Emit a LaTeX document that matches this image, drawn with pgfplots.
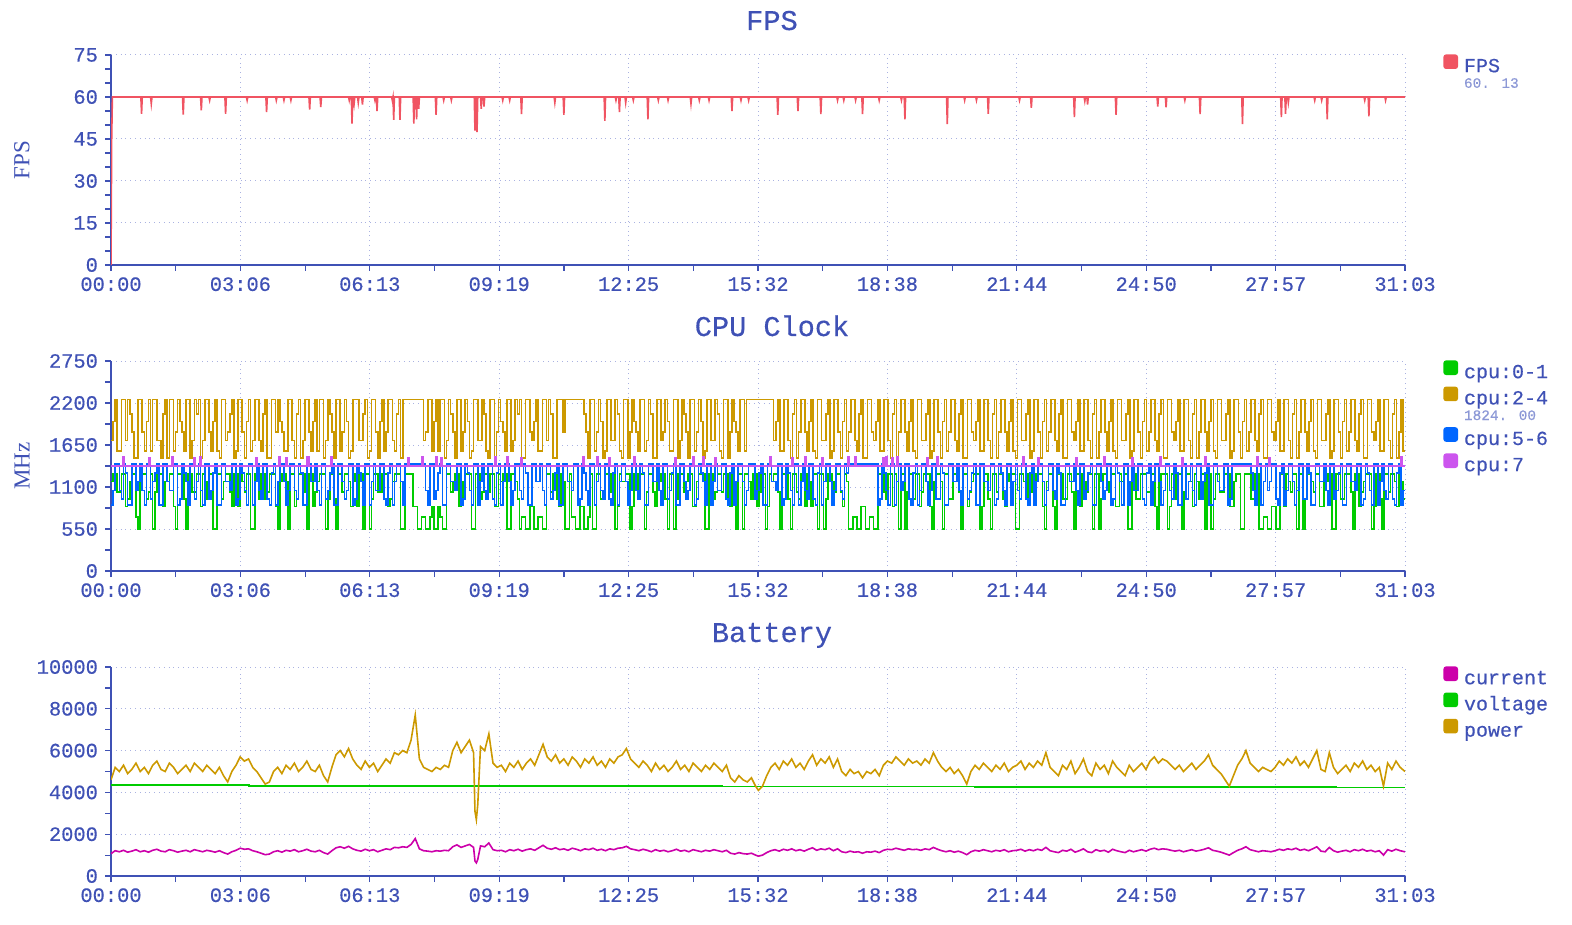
\documentclass[border=0pt]{standalone}
\usepackage{pgfplots}
\pgfplotsset{compat=1.18}
\usepackage{pgfplotstable}
\usepackage{fontspec}
\setmainfont{Liberation Serif}
\newfontfamily\lmono{Liberation Mono}[FakeBold=0.4]

\definecolor{indigo}{RGB}{63,81,181}
\definecolor{gridc}{RGB}{170,178,225}
\definecolor{subtxt}{RGB}{140,152,214}
\definecolor{fpsred}{RGB}{240,84,98}
\definecolor{cgreen}{RGB}{0,204,0}
\definecolor{cgold}{RGB}{204,153,0}
\definecolor{cblue}{RGB}{0,102,255}
\definecolor{cviolet}{RGB}{204,85,238}
\definecolor{cmag}{RGB}{204,0,170}

% cpu clocks, MHz, one row every 3 s
\pgfplotstableread{
t c01 c24 c56
0 1171 1709 864
3 1267 1958 1056
6 1267 2246 1400
9 1036 1574 1400
12 1036 1574 1056
15 1267 2246 940
18 1267 2246 1400
21 844 1709 1286
24 940 2246 864
27 1171 2054 864
30 1267 1824 1400
33 1267 1478 1400
36 710 1478 1056
39 550 2246 1171
42 1267 2246 1400
45 1267 1824 1056
48 1267 1574 864
51 940 1958 1400
54 1036 2246 1400
57 1267 1574 940
60 550 2246 1171
63 1036 2246 1286
66 1267 1709 1400
69 1267 1709 864
72 1267 1478 864
75 844 2054 1400
78 1171 2246 1400
81 1171 1478 1171
84 1267 2246 1056
87 1267 2246 1056
90 844 1574 1400
93 550 1824 1400
96 1267 2246 864
99 1267 1958 940
102 1267 1824 1400
105 940 1574 1286
108 550 2246 1171
111 1267 2246 864
114 1267 1478 1400
117 1036 1709 1400
120 1036 2246 940
123 1267 2054 1171
126 1267 2246 1400
129 844 1478 1056
132 1267 1709 864
135 1171 2246 1400
138 940 2246 1400
141 1267 1824 940
144 1267 1574 1056
147 550 1958 1286
150 550 2246 1400
153 1267 1574 864
156 1267 1478 864
159 940 2246 1400
162 1171 2246 1400
165 1267 1709 1171
168 1267 1824 1171
171 1036 2054 1056
174 844 2246 1400
177 1267 1478 1400
180 1267 1574 864
183 844 2246 940
186 1267 2246 1400
189 1171 1824 1286
192 1036 1478 1056
195 1267 1958 864
198 1267 2246 1400
201 550 1574 1400
204 550 1709 864
207 1267 2246 1171
210 1267 2246 1400
213 940 1709 1056
216 1267 1574 940
219 1267 2054 1400
222 940 2246 1400
225 1036 1478 940
228 1267 1478 864
231 1267 2246 1286
234 1267 2246 1400
237 844 1824 864
240 550 2246 1171
243 1171 1958 1400
246 1267 1824 1400
249 1267 1574 1171
252 1171 1574 864
255 550 2246 1056
258 1267 2246 1400
261 1267 1709 1400
264 844 1478 1056
267 940 2054 940
270 1267 2246 1400
273 1267 1478 1286
276 1267 1709 864
279 1036 2246 864
282 550 2246 1400
285 1267 1824 1400
288 1267 1574 1171
291 844 1958 1171
294 1036 2246 1400
297 1171 1574 1056
300 1267 2246 864
303 1267 2246 1400
306 1267 1478 1400
309 550 1709 940
312 940 2246 1056
315 1267 2054 1286
318 1267 1824 1400
321 940 1478 864
324 550 2246 864
327 1267 2246 1400
330 1267 1574 1400
333 1036 1824 1171
336 1267 2246 940
339 1267 1958 1056
342 1171 1478 1400
345 844 1574 1400
348 1267 2246 864
351 1171 2246 940
354 844 2246 1400
357 1267 1709 1286
360 1267 1709 1171
363 550 2054 864
366 1267 2246 1400
369 1267 1478 1400
372 550 1574 864
375 940 2246 1171
378 1267 2246 1400
381 1267 1824 1056
384 1036 1478 1056
387 1036 1958 1400
390 1267 2246 1400
393 1267 1574 940
396 1267 1824 864
399 844 2246 1286
402 940 2246 1400
405 1171 1709 864
408 1267 1574 1171
411 1267 2054 1400
414 1267 2246 1400
417 550 1478 1171
420 550 2246 864
423 1267 2246 1400
426 1267 2246 1400
429 1267 2246 1400
432 1267 2246 1400
435 844 2246 1400
438 844 2246 1400
441 550 2246 1400
444 550 2246 1400
447 710 2246 1400
450 710 1709 1400
453 550 1824 1056
456 550 2246 864
459 710 2246 1400
462 844 1574 1400
465 550 1958 940
468 550 2246 1056
471 844 1574 1286
474 710 2246 1400
477 550 2246 864
480 550 1478 864
483 1267 1709 1400
486 1267 2246 1400
489 1036 2054 1171
492 1171 1824 1171
495 1267 1478 1056
498 1267 2246 1400
501 844 2246 1400
504 940 1574 864
507 1171 1824 940
510 1267 2246 1400
513 1267 1958 1286
516 1267 1478 1056
519 550 1574 864
522 550 2246 1400
525 1267 2246 1400
528 1267 1709 864
531 940 1709 1171
534 1036 2246 1400
537 1267 2054 1056
540 1267 1574 940
543 1036 1478 1400
546 1267 2246 1400
549 1267 2246 940
552 844 1478 864
555 844 1824 1286
558 1267 2246 1400
561 1171 1958 864
564 1267 1824 1171
567 1267 1574 1400
570 550 2246 1400
573 550 2246 1171
576 1267 1574 864
579 1267 1709 1056
582 1171 2246 1400
585 940 2054 1400
588 550 2246 1056
591 710 1478 940
594 710 1478 1400
597 550 2246 1286
600 550 2246 864
603 844 1824 864
606 844 1709 1400
609 550 1958 1400
612 550 2246 1171
615 710 1574 1171
618 710 1574 1400
621 550 2246 1056
624 550 2246 864
627 1267 1709 1400
630 1267 2246 1400
633 1036 2054 940
636 1267 1478 1056
639 1267 1478 1286
642 940 2246 1400
645 844 2246 864
648 1267 2246 864
651 1171 1824 1400
654 550 2246 1400
657 550 2246 1171
660 1267 2246 1171
663 710 2246 1056
666 710 2246 1400
669 550 2246 1400
672 550 2246 864
675 844 2246 940
678 844 2246 1400
681 550 2054 1286
684 550 1824 1056
687 710 1478 864
690 1267 2246 1400
693 550 2246 1400
696 550 1574 864
699 1267 1824 1171
702 1267 2246 1400
705 940 1958 1056
708 1036 1478 940
711 1267 1574 1400
714 1267 2246 1400
717 1036 2246 940
720 1267 1709 864
723 1267 1709 1286
726 550 2246 1400
729 844 2054 864
732 1267 1574 1171
735 1171 1478 1400
738 1171 2246 1400
741 1267 2246 1171
744 1267 1478 864
747 550 1824 1056
750 844 2246 1400
753 1267 1958 1400
756 1267 1824 1056
759 940 1574 940
762 1267 2246 1400
765 1267 2246 1286
768 550 1574 864
771 1036 1709 864
774 1267 2246 1400
777 1267 2054 1400
780 1036 1478 1171
783 844 1478 1171
786 1267 2246 1400
789 1171 2246 1056
792 1267 1709 864
795 1267 1824 1400
798 940 2246 1400
801 550 1958 940
804 1267 1574 1056
807 1267 1574 1286
810 550 2246 1400
813 940 2246 864
816 1267 1478 864
819 1267 1709 1400
822 1267 2246 1400
825 1036 2054 1171
828 1171 1824 940
831 1267 1478 1056
834 1267 2246 1400
837 844 2246 1400
840 844 1574 864
843 1171 1824 940
846 1267 2246 1400
849 1267 1958 1286
852 1267 1478 1171
855 550 1574 864
858 550 2246 1400
861 1267 2246 1400
864 1267 1709 864
867 940 1709 1171
870 1036 2246 1400
873 1267 2054 1056
876 1267 1574 1056
879 1036 1478 1400
882 1267 2246 1400
885 1267 2246 940
888 940 1478 864
891 844 1824 1286
894 1267 2246 1400
897 1171 1958 864
900 550 1824 1171
903 1267 1574 1400
906 1267 2246 1400
909 550 2246 1171
912 1267 1574 864
915 1267 2246 1056
918 1171 2246 1400
921 940 2246 1400
924 1267 2246 1400
927 1267 2246 940
930 844 2246 1056
933 1036 2246 1286
936 1267 2246 1400
939 1267 2246 864
942 550 2246 864
945 844 2246 1400
948 1267 2246 1400
951 1171 2246 1171
954 1267 1709 1171
957 1267 1958 1056
960 1036 2246 1400
963 550 1574 1400
966 1267 1574 864
969 1267 2246 940
972 1267 2246 1400
975 940 1709 1286
978 550 1478 1056
981 1267 2054 864
984 1267 2246 1400
987 1036 1478 1400
990 940 1824 864
993 1267 2246 1171
996 1267 2246 1400
999 844 1824 1056
1002 1267 1574 940
1005 1171 1958 1400
1008 844 2246 1400
1011 1267 1574 940
1014 1267 1478 864
1017 550 2246 1286
1020 1267 2246 1400
1023 1267 1709 864
1026 550 1709 1171
1029 940 2054 1400
1032 1267 2246 1400
1035 1267 1478 1171
1038 1171 1574 864
1041 1036 2246 1056
1044 1267 2246 1400
1047 1267 1824 1400
1050 1036 1478 1056
1053 844 1958 940
1056 1267 2246 1400
1059 1171 1574 1286
1062 550 1824 1400
1065 550 2246 1400
1068 710 2246 1400
1071 710 1709 1400
1074 550 1574 1400
1077 550 2054 1400
1080 844 2246 1400
1083 844 1478 1400
1086 550 1478 1400
1089 550 2246 1400
1092 710 2246 1400
1095 710 1824 1400
1098 550 1709 1400
1101 550 1958 1400
1104 1267 2246 864
1107 1267 1574 940
1110 1267 1574 1400
1113 1036 2246 1286
1116 940 2246 1056
1119 1267 1709 864
1122 1267 1478 1400
1125 844 2054 1400
1128 1267 2246 864
1131 1171 1478 1171
1134 550 1824 1400
1137 1267 2246 1056
1140 1267 2246 1171
1143 550 1824 1400
1146 1036 1574 1400
1149 1267 1958 940
1152 1267 2246 864
1155 940 1574 1286
1158 1267 1478 1400
1161 1267 2246 864
1164 844 2246 1056
1167 1036 1709 1400
1170 1267 1709 1400
1173 1267 2054 1171
1176 1267 2246 864
1179 844 1478 1056
1182 550 1574 1400
1185 1171 2246 1400
1188 1267 2246 940
1191 1267 1824 940
1194 1171 1478 1400
1197 550 1958 1286
1200 1267 2246 864
1203 1267 1574 864
1206 940 1824 1400
1209 940 2246 1400
1212 1267 2246 1171
1215 1267 1709 1171
1218 1267 1574 1400
1221 1036 2054 1056
1224 550 2246 864
1227 1267 1478 1400
1230 1267 1478 1400
1233 844 2246 940
1236 1036 2246 1056
1239 1171 1824 1286
1242 1267 1709 1400
1245 1267 1958 864
1248 1267 2246 864
1251 550 1574 1400
1254 844 1574 1400
1257 1267 2246 1171
1260 1267 2246 1171
1263 940 1709 1056
1266 550 1478 1400
1269 1267 2054 1400
1272 1267 2246 864
1275 1036 1478 940
1278 1267 1824 1400
1281 1267 2246 1286
1284 940 2246 1056
1287 844 1824 864
1290 1267 1574 1400
1293 1171 1958 1400
1296 1267 2246 864
1299 1267 1574 1171
1302 550 1478 1400
1305 550 2246 1056
1308 1267 2246 940
1311 1267 1709 1400
1314 1171 1709 1400
1317 940 2054 940
1320 1267 2246 864
1323 1267 1478 1286
1326 1036 1574 1400
1329 1036 2246 864
1332 1267 2246 1171
1335 1267 1824 1400
1338 1267 1478 1400
1341 844 1958 1171
1344 550 2246 864
1347 1171 1574 1056
1350 1267 1824 1400
1353 1267 2246 1400
1356 844 2246 1056
1359 550 1709 940
1362 1267 1574 1400
1365 1267 2054 1286
1368 1267 2246 864
1371 940 1478 864
1374 940 1478 1400
1377 1267 2246 1400
1380 1267 2246 1171
1383 1036 1824 1171
1386 550 1709 1400
1389 1267 1958 1056
1392 1267 2246 864
1395 844 1574 1400
1398 1267 1574 1400
1401 1171 2246 940
1404 1036 2246 1056
1407 1267 1709 1286
1410 1267 1478 1400
1413 550 2054 864
1416 1267 2246 864
1419 1267 1478 1400
1422 550 1824 1400
1425 940 2246 1171
1428 1267 2246 940
1431 1267 1824 1056
1434 1171 1574 1400
1437 1036 1958 1400
1440 1267 2246 864
1443 1267 1574 940
1446 844 1478 1400
1449 844 2246 1286
1452 1267 2246 1171
1455 1171 1709 864
1458 1267 1709 1400
1461 1267 2054 1400
1464 550 2246 864
1467 550 1478 1171
1470 1267 1574 1400
1473 1267 2246 1056
1476 940 2246 1056
1479 940 1824 1400
1482 1267 1478 1400
1485 1267 1958 940
1488 1267 2246 864
1491 1036 1574 1286
1494 1036 1824 1400
1497 1267 2246 864
1500 1267 2246 1171
1503 844 1709 1400
1506 550 1574 1400
1509 1171 2054 1171
1512 1267 2246 864
1515 1267 1478 1056
1518 1267 1478 1400
1521 550 2246 1400
1524 844 2246 1056
1527 1267 1824 940
1530 1267 1709 1400
1533 940 1958 1286
1536 1267 2246 864
1539 1267 1574 864
1542 550 1574 1400
1545 1036 2246 1400
1548 1267 2246 940
1551 1267 1709 1171
1554 1171 1478 1400
1557 844 2054 1056
1560 1267 2246 864
1563 1171 1478 1400
1566 940 1824 1400
1569 1267 2246 940
1572 1267 2246 1171
1575 550 1824 1286
1578 1267 1574 1400
1581 1267 1958 864
1584 550 2246 864
1587 940 1574 1400
1590 1267 1478 1400
1593 1267 2246 1171
1596 1036 2246 1056
1599 1036 1709 1056
1602 1267 1709 1400
1605 1267 2054 1400
1608 1267 2246 864
1611 844 1478 940
1614 844 1574 1400
1617 1171 2246 1400
1620 1267 2246 1400
1623 1267 1824 1400
1626 550 1478 1400
1629 550 1958 1400
1632 1267 2246 1400
1635 1267 1574 1400
1638 1267 1824 1400
1641 940 2246 1286
1644 940 2246 1056
1647 1267 1709 864
1650 1267 1574 1400
1653 550 2054 1400
1656 550 2246 864
1659 710 1478 1171
1662 710 1478 1400
1665 550 2246 1056
1668 550 2246 1171
1671 844 1824 1400
1674 844 1709 1400
1677 550 1958 940
1680 550 2246 864
1683 1267 1574 1286
1686 1267 1574 1400
1689 844 2246 864
1692 1267 2246 1056
1695 1171 1709 1400
1698 1036 1478 1400
1701 1267 2054 1171
1704 1267 2246 864
1707 550 1478 1056
1710 1267 1824 1400
1713 1267 2246 1400
1716 550 2246 940
1719 940 1824 940
1722 1267 1574 1400
1725 1267 1958 1286
1728 1171 2246 864
1731 1036 1574 864
1734 1267 1478 1400
1737 1267 2246 1400
1740 844 2246 1171
1743 844 1709 1171
1746 1267 1709 1400
1749 1171 2054 1056
1752 1267 2246 864
1755 1267 1478 1400
1758 550 1574 1400
1761 550 2246 940
1764 1267 2246 1056
1767 1267 1824 1286
1770 940 1478 1400
1773 940 1958 864
1776 1267 2246 864
1779 1267 1574 1400
1782 1267 1824 1400
1785 1036 2246 1171
1788 550 2246 1171
1791 1267 1709 1056
1794 1267 1574 1400
1797 844 2054 1400
1800 1036 2246 864
1803 1171 1478 940
1806 1267 1478 1400
1809 1267 2246 1286
1812 1267 2246 1056
1815 550 1824 864
1818 844 1709 1400
1821 1267 1958 1400
1824 1267 2246 864
1827 940 1574 1171
1830 550 1574 1400
1833 1267 2246 1056
1836 1267 2246 940
1839 1036 1709 1400
1842 1267 1478 1400
1845 1267 2054 940
1848 1171 2246 864
1851 844 1478 1286
1854 1267 1824 1400
1857 1171 2246 864
1860 940 1574 1056
1863 940 1574 1056
}\cputab

% battery: power p, current c
\pgfplotstableread{
t p c
0 4600 1070
6 5200 1210
12 5000 1160
18 5300 1230
24 4900 1140
30 5100 1190
36 5400 1260
42 5000 1160
48 5200 1210
54 4900 1140
60 5300 1230
66 5500 1280
72 5100 1190
78 5000 1160
84 5400 1260
90 5200 1210
96 4900 1140
102 5100 1190
108 5300 1230
114 5000 1160
120 5400 1260
126 5200 1210
132 5000 1160
138 5300 1230
144 5100 1190
150 4900 1140
156 5200 1210
162 4800 1120
168 4500 1050
174 5000 1160
180 5300 1230
186 5700 1330
192 5500 1280
198 5600 1300
204 5200 1210
210 5000 1160
216 4700 1090
222 4400 1020
228 4500 1050
234 5000 1160
240 5200 1210
246 4900 1140
252 5300 1230
258 5100 1190
264 5400 1260
270 5000 1160
276 5200 1210
282 5500 1280
288 5100 1190
294 5000 1160
300 5300 1230
306 4800 1120
312 4500 1050
318 5200 1210
324 5800 1350
330 6000 1400
336 5700 1330
342 6100 1420
348 5600 1300
354 5300 1230
360 5100 1190
366 5500 1280
372 5200 1210
378 5400 1260
384 5000 1160
390 5300 1230
396 5600 1300
402 5400 1260
408 5900 1370
414 5800 1350
420 6000 1400
426 5900 1370
432 6500 1510
438 7700 1790
444 5600 1300
450 5200 1210
456 5100 1190
462 5000 1160
468 5200 1210
474 5100 1190
480 5300 1230
486 5200 1210
492 6000 1400
498 6400 1490
504 5900 1370
510 6200 1440
516 6500 1510
522 5900 1370
524 3100 720
526 2700 630
528 3400 790
532 6200 1440
538 6000 1400
544 6800 1580
550 5400 1260
556 5200 1210
562 5300 1230
568 5000 1160
574 5400 1260
580 5200 1210
586 5500 1280
592 5100 1190
598 5400 1260
604 5600 1300
610 5300 1230
616 5800 1350
622 6300 1470
628 5700 1330
634 5500 1280
640 5800 1350
646 5400 1260
652 5600 1300
658 5300 1230
664 5700 1330
670 5500 1280
676 5200 1210
682 5600 1300
688 5400 1260
694 5700 1330
700 5300 1230
706 5500 1280
712 5200 1210
718 5600 1300
724 5400 1260
730 5700 1330
736 5800 1350
742 6100 1420
748 5600 1300
754 5400 1260
760 5200 1210
766 5500 1280
772 5300 1230
778 5000 1160
784 5400 1260
790 5100 1190
796 5300 1230
802 5000 1160
808 5200 1210
814 5500 1280
820 5100 1190
826 5300 1230
832 5000 1160
838 5400 1260
844 5200 1210
850 5000 1160
856 5300 1230
862 5100 1190
868 5400 1260
874 5200 1210
880 5000 1160
886 5300 1230
892 4700 1090
898 4500 1050
904 4800 1120
910 4600 1070
916 4500 1050
922 4700 1090
928 4300 1000
932 4100 950
938 4300 1000
944 4800 1120
950 5200 1210
956 5400 1260
962 5100 1190
968 5500 1280
974 5300 1230
980 5600 1300
986 5200 1210
992 5400 1260
998 5100 1190
1004 5500 1280
1010 5800 1350
1016 5300 1230
1022 5600 1300
1028 5400 1260
1034 5700 1330
1040 5200 1210
1046 5600 1300
1052 5000 1160
1058 4800 1120
1064 5100 1190
1070 4900 1140
1076 5000 1160
1082 4700 1090
1088 5000 1160
1094 4900 1140
1100 5100 1190
1106 4800 1120
1112 5300 1230
1118 5500 1280
1124 5400 1260
1130 5700 1330
1136 5500 1280
1142 5300 1230
1148 5600 1300
1154 5400 1260
1160 5500 1280
1166 5300 1230
1172 5600 1300
1178 5400 1260
1184 5900 1370
1190 5500 1280
1196 5200 1210
1202 5000 1160
1208 5200 1210
1214 4900 1140
1220 5100 1190
1226 4800 1120
1232 4400 1020
1238 5000 1160
1244 5300 1230
1250 5100 1190
1256 5400 1260
1262 5200 1210
1268 5000 1160
1274 5300 1230
1280 5100 1190
1286 5400 1260
1292 5000 1160
1298 5200 1210
1304 5300 1230
1310 5500 1280
1316 5100 1190
1322 5400 1260
1328 5200 1210
1334 5500 1280
1340 5300 1230
1346 5900 1370
1352 5200 1210
1358 5000 1160
1364 4800 1120
1370 5300 1230
1376 5100 1190
1382 5500 1280
1388 4900 1140
1394 5200 1210
1400 5600 1300
1406 5000 1160
1412 4800 1120
1418 5400 1260
1424 5100 1190
1430 5300 1230
1436 4900 1140
1442 5500 1280
1448 5200 1210
1454 5000 1160
1460 4800 1120
1466 5300 1230
1472 5000 1160
1478 5200 1210
1484 5400 1260
1490 5100 1190
1496 5500 1280
1502 5700 1330
1508 5400 1260
1514 5600 1300
1520 5500 1280
1526 5300 1230
1532 5100 1190
1538 5300 1230
1544 5000 1160
1550 5200 1210
1556 5400 1260
1562 5100 1190
1568 5300 1230
1574 5500 1280
1580 5800 1350
1586 5300 1230
1592 5100 1190
1598 4900 1140
1604 4600 1070
1610 4300 1000
1616 4800 1120
1622 5300 1230
1628 5600 1300
1634 6000 1400
1640 5400 1260
1646 5200 1210
1652 5000 1160
1658 5200 1210
1664 5100 1190
1670 5000 1160
1676 5200 1210
1682 5500 1280
1688 5300 1230
1694 5600 1300
1700 5400 1260
1706 5700 1330
1712 5300 1230
1718 5500 1280
1724 5200 1210
1730 5600 1300
1736 6000 1400
1742 5100 1190
1748 5000 1160
1754 5900 1370
1760 5200 1210
1766 4900 1140
1772 5100 1190
1778 5300 1230
1784 5000 1160
1790 5400 1260
1796 5200 1210
1802 5500 1280
1808 5100 1190
1814 5300 1230
1820 5000 1160
1826 5200 1210
1832 4300 1000
1838 5400 1260
1844 5100 1190
1850 5500 1280
1856 5200 1210
1863 5000 1160
}\battab

\tikzset{subval/.style={font=\lmono\fontsize{7.2}{8}\selectfont, text=subtxt}}

\pgfplotsset{
  panel/.style={
    scale only axis, width=647pt, height=105pt, anchor=south west,
    xmin=0, xmax=1863,
    xtick={0,186.3,372.6,558.9,745.2,931.5,1117.8,1304.1,1490.4,1676.7,1863},
    xticklabels={00:00,03:06,06:13,09:19,12:25,15:32,18:38,21:44,24:50,27:57,31:03},
    minor x tick num=1,
    scaled y ticks=false,
    axis x line*=bottom, axis y line*=left,
    axis line style={-, draw=indigo, line width=0.7pt},
    tick align=outside, major tick length=3pt, minor tick length=3pt,
    tick style={draw=indigo, line width=0.6pt},
    grid=major, major grid style={draw=gridc, dotted, line width=0.5pt},
    tick label style={font=\lmono\fontsize{10.2}{12}\selectfont, text=indigo},
    xticklabel style={yshift=0.4pt},
    every axis title/.style={at={(0.5,1)}, anchor=base, yshift=12.5pt, xshift=7pt,
      font=\lmono\fontsize{14.3}{16}\selectfont, text=indigo},
    ylabel style={font=\fontsize{11.5}{13}\selectfont, text=indigo,
      at={(axis description cs:-0.0688,0.5)}, anchor=center},
    legend cell align=left,
    legend image code/.code={\fill[rounded corners=1pt] (0pt,-0.5pt) rectangle (6.5pt,6pt);},
    legend style={at={(1,1)}, anchor=north west, xshift=19pt, yshift=0.5pt,
      draw=none, fill=none, inner sep=0pt, row sep=2.2pt,
      font=\lmono\fontsize{10}{12}\selectfont, text=indigo,
      nodes={inner ysep=0pt, inner xsep=3pt, text height=7pt, text depth=2pt}},
  },
}

\begin{document}
\begin{tikzpicture}
\useasboundingbox (0pt,0pt) rectangle (786pt,-462.5pt);

% ---- FPS ----
\begin{axis}[panel, at={(55.5pt,-132.5pt)},
  ymin=0, ymax=75, ytick={0,15,30,45,60,75}, yticklabels={0,15,30,45,60,75},
  minor y tick num=2, title={FPS}, ylabel={FPS}]
\addplot[color=fpsred, line width=0.8pt] coordinates {
(0,0)(1,45)(2,60)
(43,60)(44,54)(45,60)(57,60)(58,57.6)(59,60)(103,60)(104,53.7)(105,60)
(129,60)(130,55.2)(131,60)(141,60)(142,58.8)(143,60)(164,60)(165,54)(166,60)
(195,60)(196,58.8)(197,60)(223,60)(224,54.6)(225,60)(237,60)(238,58.8)(239,60)
(248,60)(249,58.8)(250,60)(258,60)(259,58.8)(260,60)(285,60)(286,55.5)(287,60)
(301,60)(302,56.4)(303,60)(342,60)(343,58.8)(344,60)(346,60)(347,50.5)(348,60)
(349,60)(350,57.6)(351,60)(355,60)(356,58)(357,60)(361,60)(362,57.3)(363,60)
(379,60)(380,58.8)(381,60)(382,60)(383,55)(384,60)
(404,60)(405,58.8)(406,60)(407,51.8)(408,60)(415,60)(416,51.8)(417,60)
(435,60)(436,50.5)(437,60)(439,60)(440,52)(441,60)(442,60)(443,55.8)(444,60)
(467,60)(468,53.6)(469,60)(478,60)(479,58.8)(480,60)(489,60)(490,58.8)(491,60)
(523,60)(524,48)(525,60)(526,60)(527,47.5)(528,60)(532,60)(533,55.8)(534,60)
(536,60)(537,56.6)(538,60)(563,60)(564,58.8)(565,60)(573,60)(574,58.8)(575,60)
(590,60)(591,53.9)(592,60)(638,60)(639,58)(640,60)(651,60)(652,53.6)(653,60)
(710,60)(711,51.5)(712,60)(726,60)(727,58.8)(728,60)(731,60)(732,54.6)(733,60)
(740,60)(741,58)(742,60)(751,60)(752,58.8)(753,60)(772,60)(773,52)(774,60)
(787,60)(788,58.8)(789,60)(801,60)(802,58.8)(803,60)(834,60)(835,57.6)(836,60)
(846,60)(847,58.8)(848,60)(860,60)(861,58.8)(862,60)(893,60)(894,55)(895,60)
(906,60)(907,58.8)(908,60)(917,60)(918,58.8)(919,60)(959,60)(960,53.6)(961,60)
(988,60)(989,55)(990,60)(1021,60)(1022,53.9)(1023,60)(1045,60)(1046,58.8)(1047,60)
(1054,60)(1055,58.8)(1056,60)(1071,60)(1072,58.8)(1073,60)(1081,60)(1082,53.9)(1083,60)
(1105,60)(1106,58.8)(1107,60)(1137,60)(1138,58.8)(1139,60)(1142,60)(1143,52)(1144,60)
(1203,60)(1204,50.3)(1205,60)(1228,60)(1229,58.8)(1230,60)(1245,60)(1246,58.8)(1247,60)
(1262,60)(1263,54)(1264,60)(1307,60)(1308,58.8)(1309,60)(1324,60)(1325,56.1)(1326,60)
(1386,60)(1387,52.8)(1388,60)(1401,60)(1402,58.5)(1403,60)(1405,60)(1406,57.3)(1407,60)
(1446,60)(1447,53.6)(1448,60)(1506,60)(1507,56.6)(1508,60)(1518,60)(1519,56.3)(1520,60)
(1545,60)(1546,58.8)(1547,60)(1567,60)(1568,53.9)(1569,60)(1628,60)(1629,50.3)(1630,60)
(1684,60)(1685,52.8)(1686,60)(1690,60)(1691,54)(1692,60)(1694,60)(1695,58)(1696,60)
(1732,60)(1733,58.8)(1734,60)(1742,60)(1743,58.8)(1744,60)(1750,60)(1751,52)(1752,60)
(1804,60)(1805,58.8)(1806,60)(1810,60)(1811,53.1)(1812,60)(1834,60)(1835,58.8)(1836,60)
(1863,60)};
\addlegendentry{FPS}
\addlegendimage{empty legend}
\addlegendentry[subval, text height=3.6pt, text depth=1pt]{60. 13}
\end{axis}

% ---- CPU Clock ----
\begin{axis}[panel, at={(55.5pt,-285.5pt)},
  ymin=0, ymax=2750, ytick={0,550,1100,1650,2200,2750},
  yticklabels={0,550,1100,1650,2200,2750},
  minor y tick num=1, title={CPU Clock}, ylabel={MHz}]
\addplot[color=cgreen, line width=0.8pt, const plot] table[x=t, y=c01] {\cputab};
\addlegendentry{cpu:0-1}
\addplot[color=cgold, line width=0.8pt, const plot] table[x=t, y=c24] {\cputab};
\addlegendentry{cpu:2-4}
\addlegendimage{empty legend}
\addlegendentry[subval, text height=3.6pt, text depth=1.4pt]{1824. 00}
\addplot[color=cblue, line width=0.8pt, const plot] table[x=t, y=c56] {\cputab};
\addlegendentry{cpu:5-6}
\addplot[color=cviolet, line width=0.8pt] coordinates {
(0,1375)
(17,1375)(17,1490)(19,1490)(19,1375)(55,1375)(55,1480)(57,1480)(57,1375)
(88,1375)(88,1495)(90,1495)(90,1375)(119,1375)(119,1485)(121,1485)(121,1375)
(128,1375)(128,1490)(130,1490)(130,1375)(209,1375)(209,1480)(211,1480)(211,1375)
(242,1375)(242,1495)(244,1495)(244,1375)(252,1375)(252,1485)(254,1485)(254,1375)
(282,1375)(282,1500)(285,1500)(285,1375)(317,1375)(317,1490)(319,1490)(319,1375)
(427,1375)(427,1485)(429,1485)(429,1375)(448,1375)(448,1495)(450,1495)(450,1375)
(468,1375)(468,1490)(470,1490)(470,1375)(475,1375)(475,1480)(477,1480)(477,1375)
(553,1375)(553,1490)(555,1490)(555,1375)(570,1375)(570,1500)(572,1500)(572,1375)
(590,1375)(590,1485)(592,1485)(592,1375)(679,1375)(679,1490)(681,1490)(681,1375)
(699,1375)(699,1495)(701,1495)(701,1375)(717,1375)(717,1485)(719,1485)(719,1375)
(752,1375)(752,1490)(754,1490)(754,1375)(812,1375)(812,1480)(814,1480)(814,1375)
(838,1375)(838,1495)(840,1495)(840,1375)(852,1375)(852,1490)(854,1490)(854,1375)
(870,1375)(870,1485)(872,1485)(872,1375)(949,1375)(949,1490)(951,1490)(951,1375)
(980,1375)(980,1480)(982,1480)(982,1375)(999,1375)(999,1495)(1001,1495)(1001,1375)
(1024,1375)(1024,1485)(1026,1485)(1026,1375)(1061,1375)(1061,1490)(1063,1490)(1063,1375)
(1071,1375)(1071,1495)(1073,1495)(1073,1375)(1111,1375)(1111,1485)(1113,1485)(1113,1375)
(1116,1375)(1116,1490)(1118,1490)(1118,1375)(1124,1375)(1124,1480)(1126,1480)(1126,1375)
(1132,1375)(1132,1490)(1134,1490)(1134,1375)(1175,1375)(1175,1485)(1177,1485)(1177,1375)
(1189,1375)(1189,1495)(1191,1495)(1191,1375)(1313,1375)(1313,1490)(1315,1490)(1315,1375)
(1335,1375)(1335,1485)(1337,1485)(1337,1375)(1389,1375)(1389,1480)(1391,1480)(1391,1375)
(1430,1375)(1430,1490)(1432,1490)(1432,1375)(1470,1375)(1470,1485)(1472,1485)(1472,1375)
(1510,1375)(1510,1490)(1512,1490)(1512,1375)(1541,1375)(1541,1480)(1543,1480)(1543,1375)
(1575,1375)(1575,1495)(1577,1495)(1577,1375)(1649,1375)(1649,1490)(1651,1490)(1651,1375)
(1667,1375)(1667,1485)(1669,1485)(1669,1375)(1857,1375)(1857,1490)(1859,1490)(1859,1375)
(1863,1375)};
\addlegendentry{cpu:7}
\end{axis}

% ---- Battery ----
\begin{axis}[panel, at={(55.5pt,-438pt)}, height=104.5pt,
  ymin=0, ymax=10000, ytick={0,2000,4000,6000,8000,10000},
  yticklabels={0,2000,4000,6000,8000,10000},
  minor y tick num=1, title={Battery}]
\addplot[color=cmag, line width=0.8pt] table[x=t, y=c] {\battab};
\addlegendentry{current}
\addplot[color=cgreen, line width=0.8pt] coordinates {
(0,4350)(199,4350)(199,4310)(880,4310)(880,4290)(1243,4290)(1243,4270)(1764,4270)(1764,4230)(1863,4230)};
\addlegendentry{voltage}
\addplot[color=cgold, line width=0.8pt] table[x=t, y=p] {\battab};
\addlegendentry{power}
\end{axis}
\end{tikzpicture}
\end{document}
